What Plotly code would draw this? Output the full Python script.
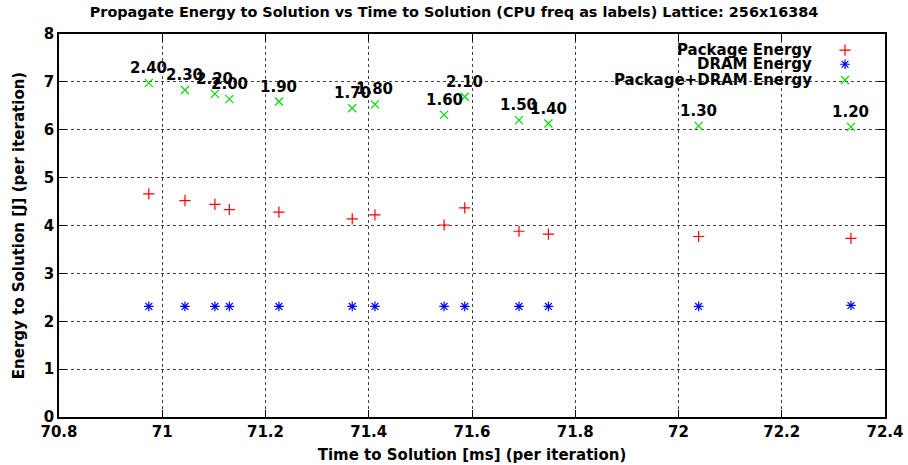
import plotly.graph_objects as go

# Data
cpu_freq = ["2.40", "2.30", "2.20", "2.00", "1.90", "1.70", "1.80", "1.60", "2.10", "1.50", "1.40", "1.30", "1.20"]
time_ms = [70.974, 71.044, 71.102, 71.130, 71.226, 71.368, 71.412, 71.546, 71.586, 71.691, 71.748, 72.039, 72.334]
package_energy = [4.66, 4.52, 4.44, 4.33, 4.28, 4.14, 4.22, 4.01, 4.37, 3.88, 3.82, 3.77, 3.73]
dram_energy = [2.31, 2.31, 2.31, 2.31, 2.31, 2.31, 2.31, 2.31, 2.31, 2.31, 2.31, 2.31, 2.33]
total_energy = [6.98, 6.83, 6.75, 6.64, 6.59, 6.45, 6.53, 6.31, 6.69, 6.20, 6.13, 6.08, 6.06]

series_names = ["Package Energy", "DRAM Energy", "Package+DRAM Energy"]
series_colors = ["#ff0000", "#0000ff", "#00dd00"]
series_symbols = ["cross-thin-open", "asterisk-open", "x-thin-open"]

x_ticks = [70.8, 71.0, 71.2, 71.4, 71.6, 71.8, 72.0, 72.2, 72.4]
x_tick_labels = ["70.8", "71", "71.2", "71.4", "71.6", "71.8", "72", "72.2", "72.4"]
y_ticks = [0, 1, 2, 3, 4, 5, 6, 7, 8]

FONT = "DejaVu Sans"
BOLD = dict(family=FONT, size=15, color="black", weight="bold")
fig = go.Figure()

for name, vals, col, sym in zip(series_names, [package_energy, dram_energy, total_energy],
                                series_colors, series_symbols):
    fig.add_trace(go.Scatter(
        x=time_ms, y=vals, mode="markers", name=name, showlegend=False,
        marker=dict(symbol=sym, size=8, color=col, line=dict(color=col, width=1.2)),
        hoverinfo="skip",
    ))

# legend samples on a hidden overlay axis (gnuplot-style: text right, symbol at right)
leg_y = [0.958, 0.921, 0.880]
for name, col, sym, ly in zip(series_names, series_colors, series_symbols, leg_y):
    fig.add_trace(go.Scatter(
        x=[0.9516], y=[ly], xaxis="x2", yaxis="y2", mode="markers", showlegend=False,
        marker=dict(symbol=sym, size=8, color=col, line=dict(color=col, width=1.2)),
        hoverinfo="skip",
    ))
    fig.add_annotation(x=0.9135, y=ly, xref="paper", yref="paper", text=name,
                       showarrow=False, xanchor="right", yanchor="middle", font=BOLD)

for t, xv, yv in zip(cpu_freq, time_ms, total_energy):
    fig.add_annotation(x=xv, y=yv, text=t, showarrow=False,
                       xanchor="center", yanchor="middle", yshift=15, font=BOLD)

axis_common = dict(
    showline=True, linecolor="black", linewidth=1.5, mirror="ticks",
    ticks="inside", ticklen=7, tickcolor="black", tickwidth=1.2,
    showgrid=True, gridcolor="#444444", griddash="dot", gridwidth=1,
    zeroline=False, automargin=False,
    tickfont=BOLD,
)

fig.update_layout(
    width=908, height=465,
    margin=dict(l=59, r=23, t=34, b=47.5),
    paper_bgcolor="white", plot_bgcolor="white",
    title=dict(text="Propagate Energy to Solution vs Time to Solution (CPU freq as labels) Lattice: 256x16384",
               x=0.5, xanchor="center", y=0.975, yanchor="middle",
               font=dict(family=FONT, size=14.4, color="black", weight="bold")),
    xaxis=dict(range=[70.8, 72.4], tickvals=x_ticks, ticktext=x_tick_labels,
               title=dict(text="Time to Solution [ms] (per iteration)", standoff=10, font=BOLD),
               **axis_common),
    yaxis=dict(range=[0, 8], tickvals=y_ticks,
               title=dict(text="Energy to Solution [J] (per iteration)", standoff=16, font=BOLD),
               **axis_common),
    xaxis2=dict(overlaying="x", range=[0, 1], visible=False),
    yaxis2=dict(overlaying="y", range=[0, 1], visible=False),
    showlegend=False,
)

fig.write_html("out.html", config={"displayModeBar": False},
               post_script="document.body.style.margin='0';document.body.style.overflow='hidden';")
